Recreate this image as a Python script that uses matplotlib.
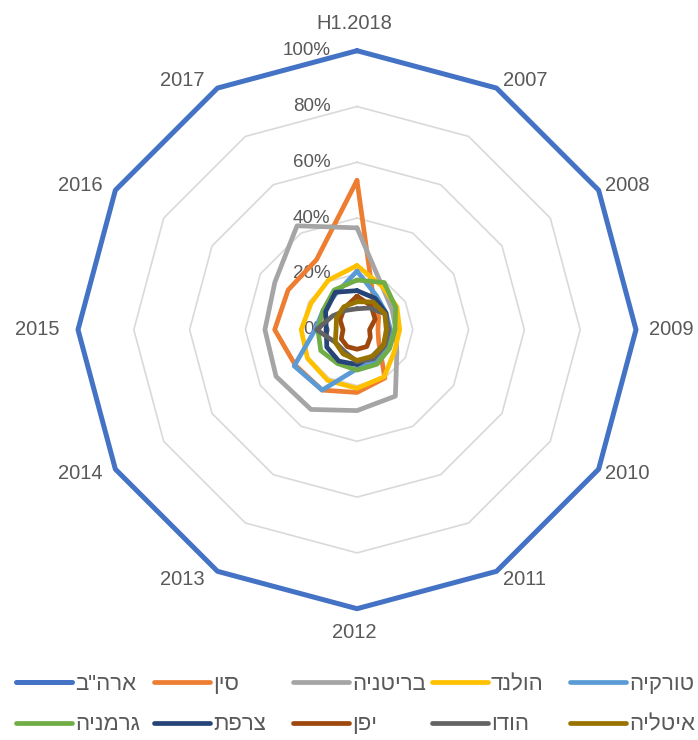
import numpy as np
import matplotlib
matplotlib.use('Agg')
import matplotlib.pyplot as plt

# ---------------- data ----------------
categories = ['H1.2018', '2007', '2008', '2009', '2010', '2011',
              '2012', '2013', '2014', '2015', '2016', '2017']
series_names = ['ארה"ב', 'סין', 'בריטניה', 'הולנד', 'טורקיה',
                'גרמניה', 'צרפת', 'יפן', 'הודו', 'איטליה']

usa         = [100, 100, 100, 100, 100, 100, 100, 100, 100, 100, 100, 100]
china       = [53.5, 12, 9, 7.5, 9, 20, 22.5, 25, 25.5, 29.5, 28.5, 29]
uk          = [36.5, 18, 14.5, 14, 16.5, 27.5, 29, 33, 33.5, 33, 34, 43]
netherlands = [23, 18, 16.5, 15.3, 15.5, 19.5, 21, 21, 20.5, 20, 19, 20.5]
turkey      = [21, 14, 12, 12, 12.5, 13, 14, 25, 26, 15, 14, 15]
germany     = [17.8, 19.5, 16, 13.6, 13.5, 14.3, 14.5, 14, 15, 14, 14, 16.4]
france      = [14, 13, 12, 11, 11, 11, 12.5, 13, 12.5, 11, 13, 15.5]
japan       = [12, 10, 7.5, 4.5, 5.5, 7, 7, 7, 6.5, 5, 7, 9]
india       = [7.5, 9, 11.5, 11.5, 11.5, 12, 11.5, 9, 9, 14.5, 10, 8]
italy       = [10, 11.5, 11.5, 10.5, 11, 11, 11, 10, 9, 7.5, 8.5, 9.5]

radial_ticks = [0, 20, 40, 60, 80, 100]
radial_tick_labels = ['0%', '20%', '40%', '60%', '80%', '100%']

# ---------------- style ----------------
colors = ['#4472C4', '#ED7D31', '#A5A5A5', '#FFC000', '#5B9BD5',
          '#70AD47', '#264478', '#9E480E', '#636363', '#997300']
text_color = '#595959'
grid_color = '#D9D9D9'

plt.rcParams['font.family'] = ['Liberation Sans', 'DejaVu Sans']


def disp(s):
    # matplotlib has no bidi support: reverse Hebrew so it reads correctly
    return s[::-1]


W, H = 698, 740
cx, cy, R = 357, 329.7, 279
PT = 0.72  # points per pixel at 100 dpi

fig = plt.figure(figsize=(W / 100, H / 100), dpi=100)
fig.patch.set_facecolor('white')
ax = fig.add_axes([(cx - R) / W, (H - cy - R) / H, 2 * R / W, 2 * R / H],
                  projection='polar')
ax.set_theta_zero_location('N')
ax.set_theta_direction(-1)
ax.set_ylim(0, 100)
ax.grid(False)
ax.spines['polar'].set_visible(False)
ax.set_xticks([])
ax.set_yticks([])
ax.patch.set_alpha(0)

n = len(categories)
theta = np.arange(n) * 2 * np.pi / n
theta_c = np.append(theta, theta[0])

# polygon gridlines
for lv in radial_ticks[1:]:
    ax.plot(theta_c, [lv] * (n + 1), color=grid_color, lw=1.2, zorder=1,
            clip_on=False)

# radial tick labels (left of the top spoke)
for lv, lab in zip(radial_ticks, radial_tick_labels):
    ax.annotate(lab, xy=(0, lv), xytext=(-19, 0), textcoords='offset points',
                ha='right', va='center', fontsize=13.5, color=text_color,
                zorder=2)

# series
all_series = [usa, china, uk, netherlands, turkey,
              germany, france, japan, india, italy]
handles = []
for k, (vals, col) in enumerate(zip(all_series, colors)):
    v = list(vals) + [vals[0]]
    lw = 3.6 if k == 0 else 3.4
    ln, = ax.plot(theta_c, v, color=col, lw=lw, zorder=3 + k,
                  solid_joinstyle='round', solid_capstyle='round',
                  clip_on=False)
    handles.append(ln)

# category labels, placed just outside each outer vertex
for i, cat in enumerate(categories):
    s, c = np.sin(theta[i]), np.cos(theta[i])
    if abs(s) < 0.1:
        ha = 'center'
        dx = 0
        dy = (27 if c > 0 else -24)
    else:
        ha = 'left' if s > 0 else 'right'
        gap = 16 if abs(c) < 0.1 else 9.5
        dx = gap if s > 0 else -gap
        dy = c * 9
    dx -= 3
    ax.annotate(cat, xy=(theta[i], 100), xytext=(dx * PT, dy * PT),
                textcoords='offset points', ha=ha, va='center',
                fontsize=14.5, color=text_color, annotation_clip=False)

# legend: 5 columns x 2 rows
col_x = [16, 154, 293, 432, 570]
for j in range(5):
    idx = [j, j + 5]
    fig.legend([handles[k] for k in idx],
               [disp(series_names[k]) for k in idx],
               loc='upper left', bbox_to_anchor=(col_x[j] / W, 1 - 674 / H),
               frameon=False, borderpad=0, borderaxespad=0,
               handlelength=2.5, handletextpad=0.15, labelspacing=0.87,
               fontsize=16, labelcolor=text_color)

fig.savefig('out.png', dpi=100, facecolor='white')
